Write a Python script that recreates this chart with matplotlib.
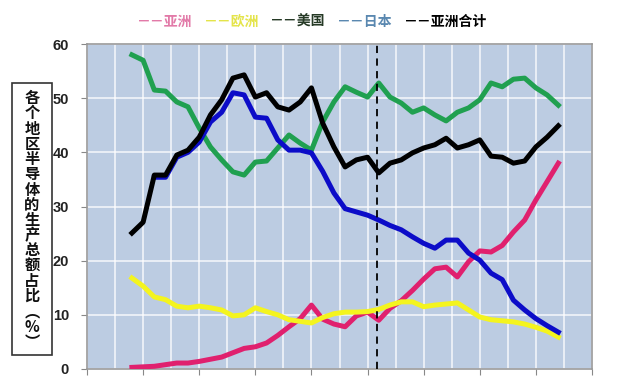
import matplotlib
matplotlib.use("Agg")
import matplotlib.pyplot as plt
from matplotlib.patches import Rectangle
from matplotlib.offsetbox import TextArea, HPacker, AnchoredOffsetbox

# share of semiconductor production by region (%), 1979-2017
years = list(range(1979, 2018))
asia = [0.3, 0.4, 0.5, 0.8, 1.1, 1.1, 1.4, 1.8, 2.2, 3.0, 3.8, 4.1, 4.8, 6.2, 7.8,
        9.3, 11.8, 9.2, 8.3, 7.8, 9.8, 10.5, 9.0, 11.2, 12.6, 14.5, 16.6, 18.5,
        18.8, 17.0, 19.8, 21.8, 21.6, 22.8, 25.3, 27.5, 31.2, 34.6, 38.0]
europe = [16.8, 15.3, 13.3, 12.8, 11.6, 11.3, 11.6, 11.3, 10.9, 9.8, 10.0, 11.3,
          10.6, 10.0, 9.1, 8.8, 8.5, 9.5, 10.2, 10.5, 10.5, 10.6, 11.0, 11.8, 12.4,
          12.4, 11.5, 11.8, 12.0, 12.2, 10.9, 9.6, 9.1, 8.9, 8.7, 8.3, 7.7, 7.0, 5.9]
usa = [58.0, 57.0, 51.5, 51.3, 49.3, 48.4, 44.5, 41.0, 38.6, 36.4, 35.8, 38.2, 38.4,
       40.8, 43.2, 41.7, 40.4, 45.6, 49.3, 52.1, 51.1, 50.2, 52.8, 50.2, 49.1, 47.4,
       48.2, 46.9, 45.8, 47.4, 48.2, 49.7, 52.8, 52.1, 53.5, 53.7, 51.9, 50.6, 48.7]
japan_years = list(range(1981, 2018))
japan = [35.4, 35.4, 39.1, 40.0, 41.9, 45.6, 47.4, 51.0, 50.6, 46.5, 46.3, 42.3,
         40.4, 40.4, 39.9, 36.5, 32.5, 29.6, 29.0, 28.4, 27.5, 26.5, 25.7, 24.4,
         23.2, 22.3, 23.8, 23.8, 21.4, 20.1, 17.7, 16.5, 12.7, 10.9, 9.3, 8.0, 6.8]
asia_total = [25.1, 27.1, 35.8, 35.8, 39.5, 40.4, 42.8, 46.9, 49.7, 53.7, 54.3, 50.2,
              51.0, 48.4, 47.8, 49.3, 51.9, 45.4, 41.0, 37.3, 38.6, 39.1, 36.2, 38.0,
              38.6, 39.9, 40.8, 41.4, 42.6, 40.8, 41.4, 42.3, 39.3, 39.1, 38.0, 38.4,
              41.0, 42.8, 44.9]
marker_year = 2000.85

cjk = ['Noto Sans CJK SC', 'DejaVu Sans']

fig = plt.figure(figsize=(6.4, 3.87), dpi=100)
ax = fig.add_axes([87 / 640, 1 - 369 / 387, (592 - 87) / 640, (369 - 44) / 387])
ax.set_facecolor('#bccce2')

lw = 3.6
ax.plot(years, asia, color='#e0206e', lw=lw, solid_joinstyle='round', zorder=3)
ax.plot(years, europe, color='#f4f41e', lw=lw, solid_joinstyle='round', zorder=3)
ax.plot(years, usa, color='#20a050', lw=lw, solid_joinstyle='round', zorder=3)
ax.plot(japan_years, japan, color='#0c0cc8', lw=lw, solid_joinstyle='round', zorder=3)
ax.plot(years, asia_total, color='black', lw=lw, solid_joinstyle='round', zorder=3)
ax.axvline(marker_year, color='black', lw=1.3, ls=(0, (4, 3)), zorder=4)

ax.set_xlim(1975, 2020)
ax.set_ylim(0, 60)
ax.set_xticks(range(1975, 2021, 5))
ax.set_xticks([x + 2.5 for x in range(1975, 2020, 5)], minor=True)
ax.set_yticks(range(0, 61, 10))
ax.grid(which='both', axis='x', color='white', lw=1.2, alpha=0.8)
ax.grid(which='major', axis='y', color='white', lw=1.2, alpha=0.8)
ax.set_axisbelow(True)
ax.tick_params(which='minor', length=0)
ax.tick_params(which='major', length=4, color='#888888', pad=9)
for lab in ax.get_xticklabels() + ax.get_yticklabels():
    lab.set_fontfamily('Liberation Sans')
    lab.set_fontweight('bold')
    lab.set_fontsize(10.5)
    lab.set_color('#222222')
for s in ax.spines.values():
    s.set_color('#9a9a9a')
    s.set_linewidth(1.2)

# boxed vertical y label
fig.add_artist(Rectangle((12 / 640, 1 - 355 / 387), 40 / 640, 272 / 387,
                         transform=fig.transFigure, fill=False,
                         edgecolor='#333333', lw=1.2))
ylabel = '各个地区半导体的生产总额占比︵%︶'
fig.text(32 / 640, 1 - 220 / 387, '\n'.join(ylabel), ha='center', va='center',
         fontsize=11, fontweight='bold', family=cjk, linespacing=0.94,
         color='#111111')

# text legend
items = [('－－亚洲', '#e27aa8'), ('－－欧洲', '#e4e44a'), ('－－美国', '#263a26'),
         ('－－日本', '#5a88b0'), ('－－亚洲合计', '#000000')]
boxes = [TextArea(t, textprops=dict(color=c, fontsize=10, family=cjk,
                                    fontweight='bold')) for t, c in items]
pack = HPacker(children=boxes, sep=8, align='center')
fig.add_artist(AnchoredOffsetbox(loc='center', child=pack, frameon=False,
                                 bbox_to_anchor=(312 / 640, 1 - 22 / 387),
                                 bbox_transform=fig.transFigure, pad=0,
                                 borderpad=0))

fig.savefig('out.png', dpi=100)
